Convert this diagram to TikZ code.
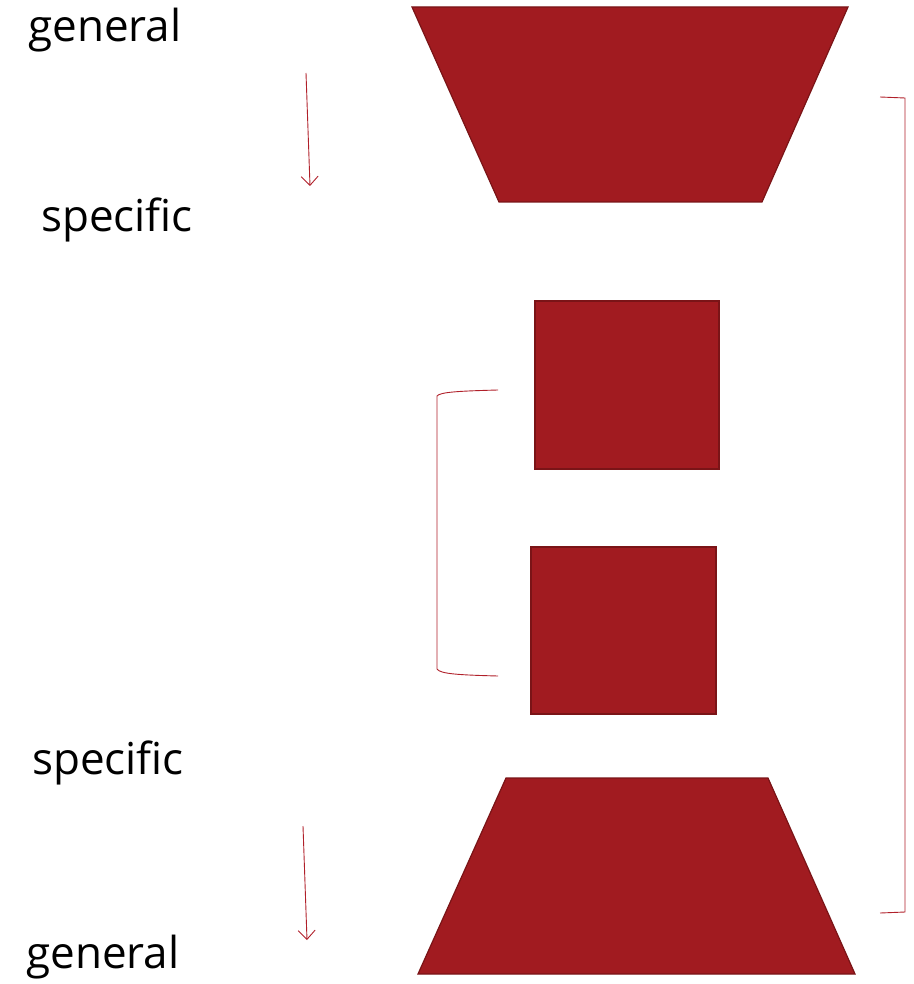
\documentclass[tikz,border=0pt]{standalone}
\usepackage{fontspec}
\setmainfont{Open Sans}
\usetikzlibrary{arrows.meta}
\definecolor{fillred}{HTML}{A11B20}
\definecolor{edgered}{HTML}{7A1417}
\definecolor{linered}{HTML}{B0202A}
\tikzset{
  block/.style={fill=fillred, draw=edgered, line width=1.2pt, line join=miter},
  lbl/.style={font=\fontsize{44}{52}\selectfont, inner sep=0pt, anchor=base},
  thin/.style={draw=linered, line width=0.9pt},
  arr/.style={thin, -{Straight Barb[length=9pt,width=17pt]}}
}
\begin{document}
\begin{tikzpicture}[x=1pt,y=-1pt]
\useasboundingbox (0,0) rectangle (913,984);
% shapes
\draw[block] (412,7) -- (848,7) -- (762,202) -- (499,202) -- cycle;
\draw[block] (535,301) rectangle (719,469);
\draw[block] (531,547) rectangle (716,714);
\draw[block] (506,778) -- (768,778) -- (855,974) -- (418,974) -- cycle;
% labels
\node[lbl] (g1) at (105,42) {general};
\node[lbl] (s1) at (117,232) {specific};
\node[lbl] (s2) at (108,774) {specific};
\node[lbl] (g2) at (103,968) {general};
% arrows
\coordinate (a1s) at (306,73);
\coordinate (a1e) at (310,186);
\coordinate (a2s) at (303,826);
\coordinate (a2e) at (307,940);
\draw[arr] (a1s) -- (a1e);
\draw[arr] (a2s) -- (a2e);
% left bracket
\coordinate (lb1) at (498,390);
\coordinate (lb2) at (498,676);
\draw[thin] (lb1) .. controls (460,391) and (440,392) .. (437,396) -- (437,669) .. controls (440,674) and (460,675) .. (lb2);
% right bracket
\coordinate (rb1) at (880,97);
\coordinate (rb2) at (880,913);
\draw[thin] (rb1) -- (905,98) -- (905,912) -- (rb2);
\end{tikzpicture}
\end{document}
